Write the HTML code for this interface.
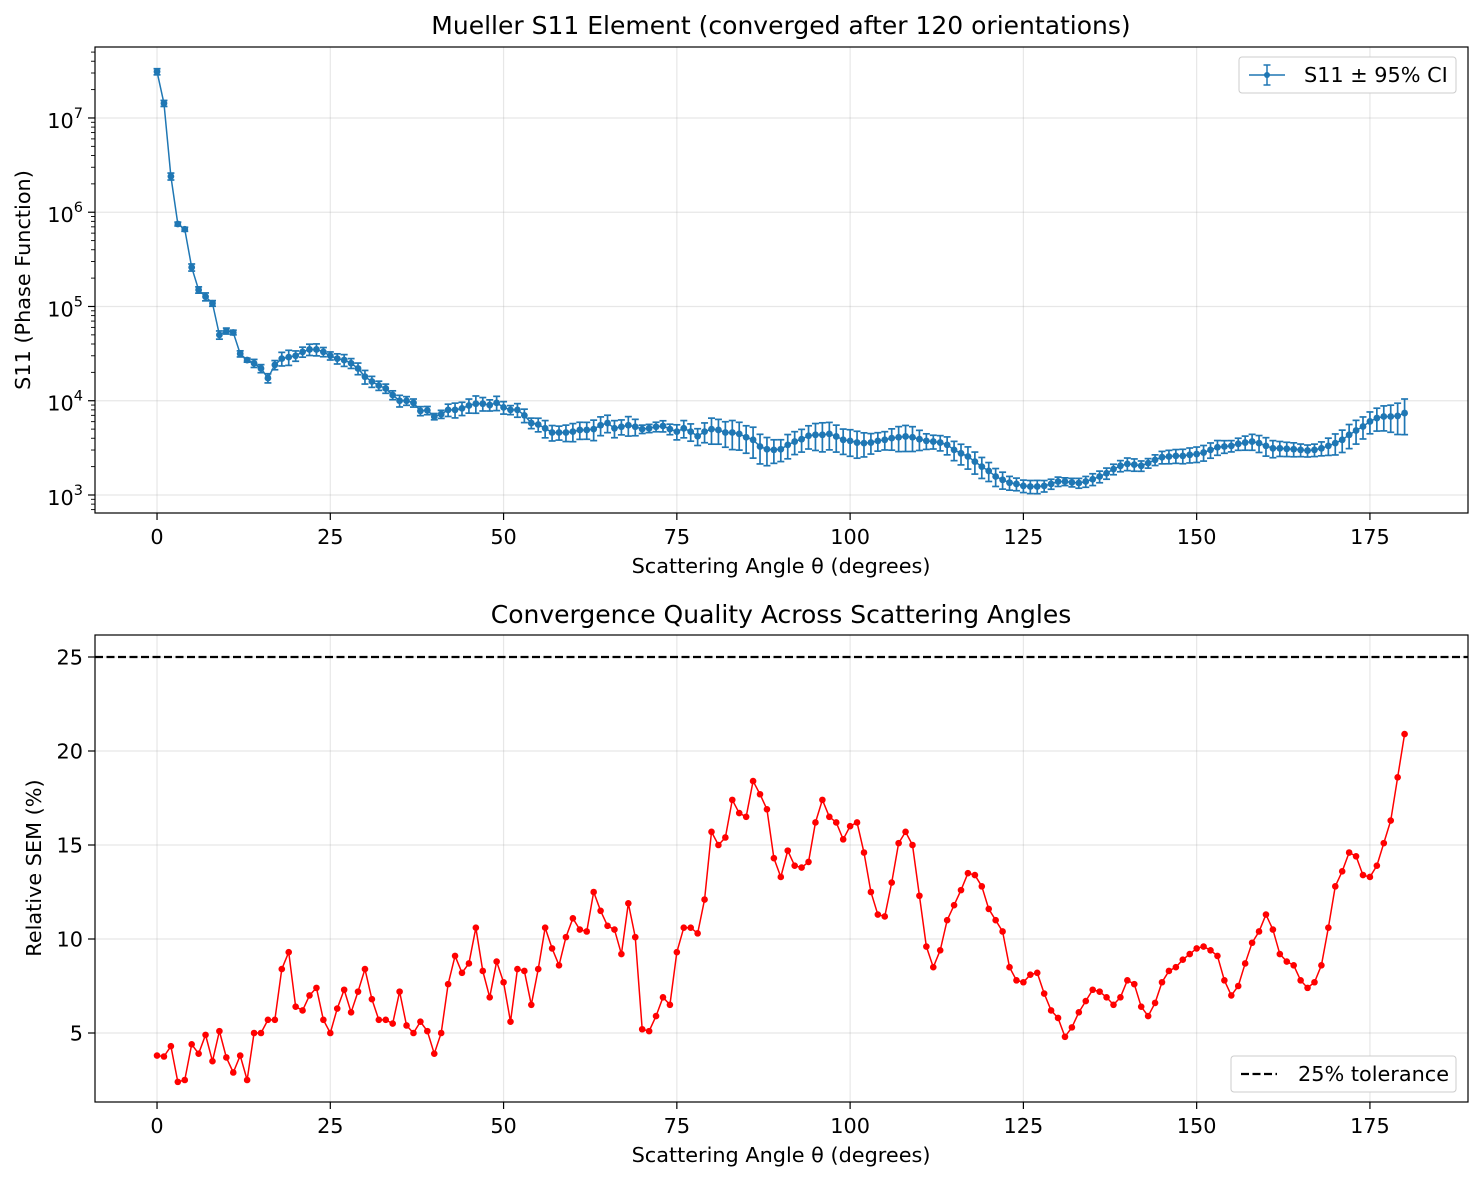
<!DOCTYPE html>
<html><head><meta charset="utf-8"><style>
body{margin:0;background:#fff}
svg{display:block;font-family:"DejaVu Sans","Liberation Sans",sans-serif}
</style></head><body>
<svg id="fig" width="1483" height="1181" viewBox="0 0 1483 1181" xmlns="http://www.w3.org/2000/svg"></svg>
<script>
const angles = Array.from({length:181},(_,i)=>i);
const s11Values = [3.1e7,1.43e7,2.4e6,7.5e5,6.6e5,2.6e5,1.5e5,1.27e5,1.08e5,5.0e4,
5.5e4,5.3e4,3.15e4,2.7e4,2.5e4,2.2e4,1.74e4,2.4e4,2.8e4,2.9e4,
3.0e4,3.3e4,3.5e4,3.5e4,3.3e4,3.0e4,2.8e4,2.7e4,2.5e4,2.2e4,
1.8e4,1.6e4,1.45e4,1.35e4,1.15e4,1.0e4,1.0e4,9.5e3,7.8e3,7.9e3,
6.8e3,7.2e3,8.0e3,8.0e3,8.3e3,8.9e3,9.3e3,9.3e3,9.0e3,9.5e3,
8.5e3,8.0e3,8.0e3,7.0e3,5.8e3,5.6e3,5.1e3,4.6e3,4.6e3,4.6e3,
4.7e3,4.9e3,4.9e3,5.0e3,5.5e3,5.8e3,5.1e3,5.3e3,5.5e3,5.3e3,
5.0e3,5.1e3,5.3e3,5.4e3,5.0e3,4.7e3,5.1e3,4.7e3,4.2e3,4.7e3,
5.0e3,4.9e3,4.6e3,4.6e3,4.45e3,4.1e3,3.85e3,3.27e3,3.06e3,3.01e3,
3.06e3,3.4e3,3.69e3,3.91e3,4.25e3,4.35e3,4.35e3,4.45e3,4.18e3,3.85e3,
3.75e3,3.6e3,3.55e3,3.6e3,3.75e3,3.85e3,4.01e3,4.1e3,4.18e3,4.1e3,
3.91e3,3.75e3,3.69e3,3.6e3,3.4e3,3.01e3,2.77e3,2.56e3,2.26e3,2.0e3,
1.8e3,1.57e3,1.45e3,1.35e3,1.31e3,1.25e3,1.23e3,1.23e3,1.25e3,1.31e3,
1.39e3,1.39e3,1.36e3,1.34e3,1.39e3,1.47e3,1.57e3,1.70e3,1.88e3,2.04e3,
2.14e3,2.10e3,2.04e3,2.18e3,2.36e3,2.52e3,2.56e3,2.6e3,2.6e3,2.67e3,
2.72e3,2.82e3,3.01e3,3.21e3,3.27e3,3.32e3,3.49e3,3.6e3,3.69e3,3.55e3,
3.32e3,3.13e3,3.13e3,3.09e3,3.06e3,3.01e3,2.96e3,3.01e3,3.13e3,3.32e3,
3.55e3,3.85e3,4.35e3,4.83e3,5.33e3,6.03e3,6.55e3,6.8e3,6.8e3,6.9e3,7.4e3];
const relSem = [3.8,3.75,4.3,2.4,2.5,4.4,3.9,4.9,3.5,5.1,3.7,2.9,3.8,2.5,5.0,5.0,5.7,5.7,8.4,9.3,
6.4,6.2,7.0,7.4,5.7,5.0,6.3,7.3,6.1,7.2,8.4,6.8,5.7,5.7,5.5,7.2,5.4,5.0,5.6,5.1,
3.9,5.0,7.6,9.1,8.2,8.7,10.6,8.3,6.9,8.8,7.7,5.6,8.4,8.3,6.5,8.4,10.6,9.5,8.6,10.1,
11.1,10.5,10.4,12.5,11.5,10.7,10.5,9.2,11.9,10.1,5.2,5.1,5.9,6.9,6.5,9.3,10.6,10.6,10.3,12.1,
15.7,15.0,15.4,17.4,16.7,16.5,18.4,17.7,16.9,14.3,13.3,14.7,13.9,13.8,14.1,16.2,17.4,16.5,16.2,15.3,
16.0,16.2,14.6,12.5,11.3,11.2,13.0,15.1,15.7,15.0,12.3,9.6,8.5,9.4,11.0,11.8,12.6,13.5,13.4,12.8,
11.6,11.0,10.4,8.5,7.8,7.7,8.1,8.2,7.1,6.2,5.8,4.8,5.3,6.1,6.7,7.3,7.2,6.9,6.5,6.9,
7.8,7.6,6.4,5.9,6.6,7.7,8.3,8.5,8.9,9.2,9.5,9.6,9.4,9.1,7.8,7.0,7.5,8.7,9.8,10.4,
11.3,10.5,9.2,8.8,8.6,7.8,7.4,7.7,8.6,10.6,12.8,13.6,14.6,14.4,13.4,13.3,13.9,15.1,16.3,18.6,20.9];
const xTicks = [0,25,50,75,100,125,150,175];
const topYTicks = [3,4,5,6,7];
const botYTicks = [5,10,15,20,25];
const tolerance = 25;

const NS="http://www.w3.org/2000/svg";
const svg=document.getElementById('fig');
function mk(tag,attrs,parent){const e=document.createElementNS(NS,tag);for(const k in attrs)e.setAttribute(k,attrs[k]);(parent||svg).appendChild(e);return e;}

const L=95,R=1468;
const xs=v=>L+(v+8.95)/(189.15+8.95)*(R-L);
const T1=47,B1=513;
const ys1=v=>B1-(Math.log10(v)-2.809)/(7.753-2.809)*(B1-T1);
const T2=635,B2=1102;
const ys2=v=>B2-(v-1.33)/(26.17-1.33)*(B2-T2);

function panel(T,B,ysf,yticks,isLog,name){
  const g=mk('g',{});
  
  
  xTicks.forEach(t=>{const l=mk('line',{x1:xs(t),x2:xs(t),y1:T,y2:B,stroke:'#b0b0b0','stroke-opacity':0.3,'stroke-width':1.2},g);});
  yticks.forEach(t=>{const y=isLog?ysf(Math.pow(10,t)):ysf(t);const l=mk('line',{x1:L,x2:R,y1:y,y2:y,stroke:'#b0b0b0','stroke-opacity':0.3,'stroke-width':1.2},g);});
  xTicks.forEach(t=>{mk('line',{x1:xs(t),x2:xs(t),y1:B,y2:B+7,stroke:'#000','stroke-width':1.2},g);
    const tx=mk('text',{x:xs(t),y:B+31,'text-anchor':'middle','font-size':20.8},g);tx.textContent=t;
    });
  yticks.forEach(t=>{const y=isLog?ysf(Math.pow(10,t)):ysf(t);
    mk('line',{x1:L-7,x2:L,y1:y,y2:y,stroke:'#000','stroke-width':1.2},g);
    const tx=mk('text',{x:L-12,y:y+7.5,'text-anchor':'end','font-size':20.8},g);
    
    if(isLog){tx.setAttribute('y',y+10);tx.textContent='10';const s=mk('tspan',{dy:-10,'font-size':14.5},tx);s.textContent=t;}
    else tx.textContent=t;});
  if(isLog){for(let d=2;d<=7;d++)for(let m=2;m<=9;m++){const y=ysf(m*Math.pow(10,d));if(y>T&&y<B)mk('line',{x1:L-4,x2:L,y1:y,y2:y,stroke:'#000','stroke-width':0.9},g);}}
  return g;
}
const g1=panel(T1,B1,ys1,topYTicks,true,'s11-panel');
const errG=mk('g',{stroke:'#1f77b4','stroke-width':1.7},g1);


angles.forEach((a,i)=>{const v=s11Values[i],e=1.96*relSem[i]/100*v;const x=xs(a),y1=ys1(v+e),y2=ys1(Math.max(v-e,1));
  mk('line',{x1:x,x2:x,y1:y1,y2:y2},errG);mk('line',{x1:x-3.5,x2:x+3.5,y1:y1,y2:y1},errG);mk('line',{x1:x-3.5,x2:x+3.5,y1:y2,y2:y2},errG);});
const p1=mk('polyline',{points:angles.map((a,i)=>xs(a)+','+ys1(s11Values[i])).join(' '),fill:'none',stroke:'#1f77b4','stroke-width':1.5},g1);


angles.forEach((a,i)=>{const c=mk('circle',{cx:xs(a),cy:ys1(s11Values[i]),r:3.4,fill:'#1f77b4'},g1);});
mk('rect',{x:L,y:T1,width:R-L,height:B1-T1,fill:'none',stroke:'#000','stroke-width':1.2},g1);

const g2=panel(T2,B2,ys2,botYTicks,false,'sem-panel');
const tl=mk('line',{x1:L,x2:R,y1:ys2(tolerance),y2:ys2(tolerance),stroke:'#000','stroke-width':2.2,'stroke-dasharray':'8,3.5'},g2);


const p2=mk('polyline',{points:angles.map((a,i)=>xs(a)+','+ys2(relSem[i])).join(' '),fill:'none',stroke:'#ff0000','stroke-width':1.5},g2);


angles.forEach((a,i)=>{const c=mk('circle',{cx:xs(a),cy:ys2(relSem[i]),r:3.3,fill:'#ff0000'},g2);});
mk('rect',{x:L,y:T2,width:R-L,height:B2-T2,fill:'none',stroke:'#000','stroke-width':1.2},g2);

function txt(x,y,s,size,name,anchor,rot){const t=mk('text',{x:x,y:y,'font-size':size,'text-anchor':anchor||'middle'});if(rot)t.setAttribute('transform','rotate(-90 '+x+' '+y+')');t.textContent=s;
  return t;}
txt(781,34,'Mueller S11 Element (converged after 120 orientations)',25,'top-title');
txt(781,573,'Scattering Angle θ (degrees)',20.8,'top-x-axis-title');
txt(30,280,'S11 (Phase Function)',20.8,'top-y-axis-title','middle',true);
txt(781,623,'Convergence Quality Across Scattering Angles',25,'bottom-title');
txt(781,1162,'Scattering Angle θ (degrees)',20.8,'bottom-x-axis-title');
txt(41,868,'Relative SEM (%)',20.8,'bottom-y-axis-title','middle',true);

const lg1=mk('g',{});


mk('rect',{x:1239,y:57,width:217,height:36,rx:3,fill:'#fff',stroke:'#ccc','stroke-width':1},lg1);
mk('line',{x1:1249,x2:1285,y1:75,y2:75,stroke:'#1f77b4','stroke-width':1.5},lg1);
mk('line',{x1:1267,x2:1267,y1:65,y2:85,stroke:'#1f77b4','stroke-width':1.5},lg1);
mk('line',{x1:1263.5,x2:1270.5,y1:65,y2:65,stroke:'#1f77b4','stroke-width':1.5},lg1);
mk('line',{x1:1263.5,x2:1270.5,y1:85,y2:85,stroke:'#1f77b4','stroke-width':1.5},lg1);
mk('circle',{cx:1267,cy:75,r:3,fill:'#1f77b4'},lg1);
const lt1=mk('text',{x:1304,y:82,'font-size':20.8},lg1);lt1.textContent='S11 ± 95% CI';
const lg2=mk('g',{});


mk('rect',{x:1231,y:1056,width:225,height:36,rx:3,fill:'#fff',stroke:'#ccc','stroke-width':1},lg2);
mk('line',{x1:1241,x2:1277,y1:1074,y2:1074,stroke:'#000','stroke-width':2.2,'stroke-dasharray':'8,3.5'},lg2);
const lt2=mk('text',{x:1298,y:1081,'font-size':20.8},lg2);lt2.textContent='25% tolerance';
</script>
</body></html>
